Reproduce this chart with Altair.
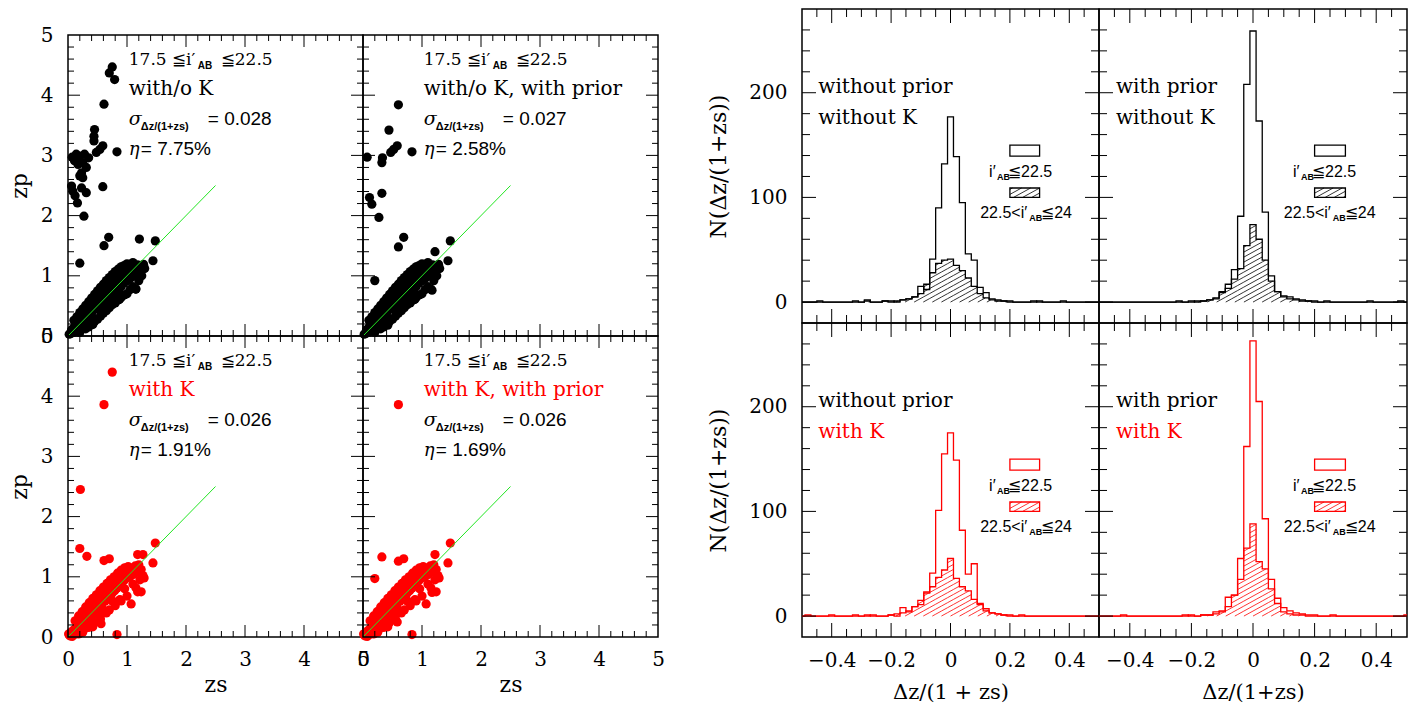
import altair as alt
import numpy as np
import pandas as pd

SERIF = "DejaVu Serif"
SANS = "Liberation Sans"
RED = "#ff0000"
BLACK = "#000000"
GREEN = "#22e622"

# ---------------- scatter data (zs, zp) ----------------
core_noK_zs = [0.02, 0.05, 0.06, 0.09, 0.10, 0.12, 0.14, 0.15, 0.17, 0.19, 0.20, 0.22, 0.24, 0.25, 0.27, 0.28,
               0.30, 0.31, 0.33, 0.35, 0.36, 0.38, 0.40, 0.42, 0.44, 0.45, 0.47, 0.49, 0.50, 0.52, 0.54, 0.55,
               0.57, 0.58, 0.60, 0.62, 0.63, 0.65, 0.67, 0.68, 0.70, 0.72, 0.73, 0.75, 0.77, 0.78, 0.80, 0.82,
               0.83, 0.85, 0.87, 0.88, 0.90, 0.92, 0.93, 0.95, 0.97, 0.98, 1.00, 1.02, 1.04, 1.05, 1.08, 1.10,
               1.12, 1.15, 1.18, 1.20, 1.24, 1.28, 0.87, 0.79, 1.15, 0.60, 0.42, 0.30,
               0.10, 0.15, 0.20, 0.25, 0.30, 0.35, 0.40, 0.45, 0.50, 0.55, 0.60, 0.65, 0.70, 0.75, 0.80, 0.85,
               0.90, 0.95, 1.00, 1.10,
               0.20, 0.30, 0.35, 0.40, 0.45, 0.50, 0.55, 0.60, 0.65, 0.70, 0.75, 0.80, 0.85, 0.90, 0.95, 1.00,
               1.05, 1.10, 1.20, 1.25, 1.30]
core_noK_zp = [0.03, 0.04, 0.10, 0.06, 0.14, 0.09, 0.18, 0.12, 0.22, 0.15, 0.26, 0.19, 0.30, 0.22, 0.35, 0.26,
               0.40, 0.30, 0.45, 0.33, 0.42, 0.50, 0.38, 0.47, 0.56, 0.44, 0.52, 0.62, 0.46, 0.57, 0.66, 0.50,
               0.60, 0.72, 0.55, 0.66, 0.78, 0.58, 0.70, 0.82, 0.63, 0.75, 0.88, 0.68, 0.80, 0.93, 0.72, 0.86,
               0.98, 0.77, 0.91, 1.03, 0.82, 0.96, 1.07, 0.88, 1.00, 1.10, 0.92, 1.04, 1.13, 0.95, 1.08, 1.16,
               1.00, 1.12, 1.18, 1.05, 1.10, 1.19, 0.61, 0.70, 0.78, 0.45, 0.30, 0.22,
               0.26, 0.32, 0.39, 0.45, 0.51, 0.57, 0.63, 0.69, 0.75, 0.81, 0.86, 0.92, 0.97, 1.02, 1.07, 1.11,
               1.15, 1.17, 1.20, 1.22,
               0.06, 0.12, 0.15, 0.20, 0.24, 0.28, 0.33, 0.38, 0.42, 0.47, 0.52, 0.55, 0.60, 0.64, 0.68, 0.70,
               0.77, 0.82, 0.92, 1.00, 1.12]

core_K_zs = [0.01, 0.03, 0.05, 0.07, 0.09, 0.11, 0.13, 0.15, 0.17, 0.19, 0.21, 0.23, 0.25, 0.27, 0.29, 0.31,
             0.33, 0.35, 0.37, 0.39, 0.41, 0.43, 0.45, 0.47, 0.49, 0.51, 0.53, 0.55, 0.57, 0.59, 0.61, 0.63,
             0.65, 0.67, 0.69, 0.71, 0.73, 0.75, 0.77, 0.79, 0.81, 0.83, 0.85, 0.87, 0.89, 0.91, 0.93, 0.95,
             0.97, 0.99, 1.02, 1.05, 1.08, 1.11, 1.14, 1.17, 1.20, 1.24, 1.27, 1.22, 0.60, 0.75, 0.88, 0.40,
             0.28, 0.18, 0.52, 0.96, 1.10,
             0.12, 0.18, 0.24, 0.30, 0.36, 0.42, 0.48, 0.54, 0.60, 0.66, 0.72, 0.78, 0.84, 0.90, 0.96, 1.02,
             0.25, 0.35, 0.45, 0.55, 0.65, 0.70, 0.80, 0.90, 1.00, 1.07, 1.15, 1.24, 1.29]
core_K_zp = [0.05, 0.02, 0.08, 0.01, 0.11, 0.04, 0.15, 0.09, 0.20, 0.13, 0.25, 0.17, 0.30, 0.21, 0.36, 0.26,
             0.42, 0.30, 0.46, 0.36, 0.52, 0.40, 0.57, 0.44, 0.62, 0.48, 0.66, 0.53, 0.71, 0.57, 0.76, 0.60,
             0.80, 0.64, 0.85, 0.69, 0.89, 0.73, 0.94, 0.77, 0.98, 0.81, 1.02, 0.86, 1.06, 0.90, 1.09, 0.94,
             1.12, 0.98, 1.10, 1.00, 1.14, 1.04, 1.18, 1.08, 1.20, 1.12, 1.02, 0.95, 0.45, 0.60, 0.62, 0.28,
             0.14, 0.05, 0.36, 0.80, 0.88,
             0.27, 0.35, 0.42, 0.50, 0.57, 0.64, 0.70, 0.77, 0.83, 0.89, 0.95, 1.00, 1.06, 1.11, 1.15, 1.17,
             0.08, 0.16, 0.24, 0.30, 0.40, 0.45, 0.52, 0.60, 0.68, 0.55, 0.82, 0.75, 0.98]

out_A_zs = [0.75, 0.70, 0.79, 0.61, 0.45, 0.44, 0.44, 0.83, 0.59, 0.54, 0.48, 0.07, 0.14, 0.20, 0.28, 0.35,
            0.25, 0.17, 0.31, 0.23, 0.20, 0.25, 0.11, 0.59, 0.06, 0.08, 0.12, 0.16, 0.23, 0.31, 0.27, 0.69,
            0.61, 1.21, 1.48, 0.20, 1.44, 0.42, 0.87, 1.15]
out_A_zp = [4.47, 4.37, 4.26, 3.85, 3.43, 3.32, 3.24, 3.06, 3.16, 3.10, 3.05, 2.97, 3.02, 2.99, 3.02, 2.96,
            2.88, 2.85, 2.80, 2.71, 2.66, 2.63, 2.91, 2.48, 2.49, 2.41, 2.33, 2.21, 2.46, 2.38, 1.99, 1.64,
            1.50, 1.61, 1.58, 1.21, 1.25, 0.19, 0.61, 0.78]

out_B_zs = [0.60, 0.44, 0.58, 0.52, 0.47, 0.83, 0.33, 0.32, 0.07, 0.32, 0.11, 0.15, 0.27, 0.69, 0.60, 1.48,
            1.22, 1.44, 0.20, 0.42, 1.17, 0.88]
out_B_zp = [3.84, 3.42, 3.16, 3.10, 3.05, 3.06, 2.96, 2.88, 2.97, 2.37, 2.30, 2.19, 1.97, 1.64, 1.48, 1.58,
            1.40, 1.25, 0.92, 0.18, 0.76, 0.61]

out_C_zs = [0.75, 0.61, 0.21, 0.20, 0.32, 0.61, 0.70, 1.48, 1.44, 1.18, 1.27, 0.83, 0.42, 0.56, 1.18, 0.87]
out_C_zp = [4.40, 3.86, 2.45, 1.47, 1.34, 1.27, 1.30, 1.56, 1.23, 1.37, 1.37, 0.04, 0.17, 0.22, 0.75, 0.61]

out_D_zs = [0.60, 0.32, 0.60, 0.69, 0.20, 1.48, 1.22, 1.44, 0.83, 0.42, 0.58, 1.17, 0.88]
out_D_zp = [3.86, 1.33, 1.26, 1.30, 0.97, 1.56, 1.37, 1.23, 0.04, 0.17, 0.25, 0.74, 0.61]

ref_line = [0.0, 2.5]

sigma_vals = ["0.028", "0.027", "0.026", "0.026"]
eta_vals = ["7.75%", "2.58%", "1.91%", "1.69%"]
scatter_line2 = ["with/o K", "with/o K, with prior", "with K", "with K, with prior"]

# ---------------- histogram data ----------------
bin_centers = [round(-0.5 + 0.02 * i, 2) for i in range(51)]

h1_bright = [0, 0, 0, 1, 0, 0, 0, 0, 0, 1,
             0, 1, 0, 0, 1, 1, 0, 2, 3, 5,
             15, 12, 41, 90, 132, 177, 139, 95, 46, 40,
             14, 9, 3, 2, 1, 1, 0, 0, 0, 1,
             0, 0, 0, 0, 1, 0, 0, 0, 0, 0, 0]
h1_faint = [0, 0, 0, 0, 0, 0, 0, 0, 0, 0,
            0, 2, 0, 0, 1, 0, 1, 2, 3, 5,
            8, 17, 28, 37, 40, 41, 35, 30, 23, 15,
            8, 4, 2, 1, 1, 0, 0, 0, 0, 0,
            1, 0, 0, 0, 0, 0, 0, 0, 0, 0, 0]
h2_bright = [0, 0, 0, 0, 0, 0, 0, 0, 0, 0,
             0, 0, 0, 0, 0, 1, 0, 1, 2, 3,
             10, 17, 31, 82, 208, 259, 173, 86, 25, 10,
             6, 5, 3, 2, 1, 1, 0, 1, 0, 0,
             0, 0, 0, 0, 1, 0, 0, 0, 0, 1, 0]
h2_faint = [0, 0, 0, 0, 0, 0, 0, 0, 0, 0,
            0, 0, 0, 1, 0, 0, 1, 1, 2, 4,
            9, 13, 22, 32, 54, 74, 60, 40, 20, 10,
            5, 3, 2, 1, 1, 0, 0, 0, 0, 0,
            0, 0, 0, 0, 0, 0, 0, 0, 0, 0, 0]
h3_bright = [0, 1, 0, 0, 0, 1, 0, 0, 0, 1,
             0, 0, 1, 0, 0, 1, 0, 8, 4, 9,
             11, 23, 41, 101, 155, 175, 149, 82, 40, 50,
             11, 5, 3, 2, 1, 1, 0, 1, 0, 0,
             0, 0, 0, 0, 0, 0, 0, 0, 0, 0, 0]
h3_faint = [0, 0, 0, 0, 0, 0, 0, 0, 0, 0,
            0, 1, 0, 0, 0, 1, 2, 3, 5, 9,
            15, 22, 28, 37, 44, 55, 36, 28, 24, 16,
            12, 7, 3, 2, 1, 0, 0, 0, 0, 0,
            0, 0, 0, 0, 0, 0, 0, 0, 0, 0, 0]
h4_bright = [0, 0, 0, 0, 1, 0, 0, 0, 0, 0,
             0, 0, 0, 0, 1, 0, 0, 1, 1, 4,
             5, 18, 20, 55, 162, 263, 205, 93, 35, 17,
             8, 5, 3, 2, 1, 1, 0, 0, 1, 0,
             0, 0, 0, 0, 0, 0, 0, 0, 0, 0, 1]
h4_faint = [0, 0, 0, 0, 0, 0, 0, 0, 0, 0,
            0, 0, 0, 0, 0, 1, 0, 1, 1, 2,
            4, 9, 20, 35, 65, 88, 52, 45, 26, 12,
            4, 2, 1, 1, 0, 0, 0, 0, 0, 0,
            0, 0, 0, 0, 0, 0, 0, 0, 0, 0, 0]

# ---------------- tick values ----------------
sc_major = [1, 2, 3, 4]
sc_minor = [round(0.2 * i, 1) for i in range(1, 25) if i % 5 != 0]
hx_major = [-0.4, -0.2, 0.0, 0.2, 0.4]
hx_minor = [-0.45, -0.35, -0.3, -0.25, -0.15, -0.1, -0.05, 0.05, 0.1, 0.15, 0.25, 0.3, 0.35, 0.45]
hy_major = [0, 100, 200]
hy_minor = [20, 40, 60, 80, 120, 140, 160, 180, 220, 240, 260]

SW = 295            # scatter panel width
HW1, HW2, HH = 297, 308, 314   # histogram panel widths / height (also cell height)
GAP = 144
ONE = pd.DataFrame({"a": [0]})


def tick_layers(xmaj, xmin, ymaj, ymin, xsc, ysc, xax, yax, W, ytop, ybot, lmaj, lmin):
    out = []
    for vals, L in ((xmaj, lmaj), (xmin, lmin)):
        base = alt.Chart(pd.DataFrame({"v": vals})).mark_rule(color=BLACK, strokeWidth=1)
        xe = alt.X("v:Q", scale=xsc, axis=xax)
        out.append(base.encode(x=xe, y=alt.value(ybot), y2=alt.value(ybot - L)))
        out.append(base.encode(x=xe, y=alt.value(ytop), y2=alt.value(ytop + L)))
    for vals, L in ((ymaj, lmaj), (ymin, lmin)):
        base = alt.Chart(pd.DataFrame({"v": vals})).mark_rule(color=BLACK, strokeWidth=1)
        ye = alt.Y("v:Q", scale=ysc, axis=yax)
        out.append(base.encode(y=ye, x=alt.value(0), x2=alt.value(L)))
        out.append(base.encode(y=ye, x=alt.value(W), x2=alt.value(W - L)))
    return out


def txt(x, y, text, xsc, ysc, xax, yax, size=17, color=BLACK, font=SERIF, dx=0, dy=0,
        weight="normal", style="normal"):
    return alt.Chart(ONE).mark_text(
        text=text, align="left", baseline="alphabetic", dx=dx, dy=dy, font=font, fontSize=size,
        color=color, fontWeight=weight, fontStyle=style
    ).encode(x=alt.XDatum(x, scale=xsc, axis=xax), y=alt.YDatum(y, scale=ysc, axis=yax))


def scatter_panel(i, zs, zp, color, show_x, show_y, ytop, ybot):
    xsc = alt.Scale(domain=[0, 5], nice=False, zero=False)
    ysc = alt.Scale(domain=[0, 5], nice=False, zero=False, range=[ybot, ytop])
    if show_x:
        xax = alt.Axis(values=[0, 1, 2, 3, 4, 5], format="d", labelFont=SERIF, labelFontSize=20,
                       labelColor=BLACK, labelPadding=22, labelBaseline="middle", labelFlush=False,
                       labelOverlap=False, ticks=False, tickSize=0, domain=False, grid=False,
                       title="zs", titleFont=SERIF, titleFontSize=22, titleFontWeight="normal",
                       titleColor=BLACK, titleX=SW / 2, titleY=47, titleAlign="center", titleBaseline="middle")
    else:
        xax = None
    if show_y:
        yax = alt.Axis(values=[0, 1, 2, 3, 4, 5], format="d", labelFont=SERIF, labelFontSize=20,
                       labelColor=BLACK, labelPadding=15, labelAlign="right", labelBaseline="middle",
                       labelFlush=False, labelOverlap=False, ticks=False, tickSize=0, domain=False, grid=False,
                       title="zp", titleFont=SERIF, titleFontSize=22, titleFontWeight="normal",
                       titleColor=BLACK, titleX=-49, titleY=(ytop + ybot) / 2, titleAngle=270,
                       titleAlign="center", titleBaseline="middle")
    else:
        yax = None
    pts = alt.Chart(pd.DataFrame({"zs": zs, "zp": zp})).mark_circle(size=85, color=color, opacity=1).encode(
        x=alt.X("zs:Q", scale=xsc, axis=xax), y=alt.Y("zp:Q", scale=ysc, axis=yax))
    line = alt.Chart(pd.DataFrame({"zs": ref_line, "zp": ref_line})).mark_line(color=GREEN, strokeWidth=1).encode(
        x=alt.X("zs:Q", scale=xsc, axis=xax), y=alt.Y("zp:Q", scale=ysc, axis=yax))
    frame = alt.Chart(ONE).mark_rect(fillOpacity=0, stroke=BLACK, strokeWidth=1.5).encode(
        x=alt.XDatum(0, scale=xsc, axis=xax), x2=alt.X2Datum(5),
        y=alt.YDatum(0, scale=ysc, axis=yax), y2=alt.Y2Datum(5))
    x0 = 1.03
    lab_col = RED if color == RED else BLACK
    T = lambda *a, **k: txt(*a[:3], xsc, ysc, xax, yax, **k)
    texts = [
        T(x0, 4.5, "17.5 \u2266i\u2032"),
        T(x0, 4.5, "AB", size=10, dx=69, dy=4, weight="bold", font=SANS),
        T(x0, 4.5, "\u226622.5", dx=92),
        T(x0, 4.0, scatter_line2[i], color=lab_col, size=20),
        T(x0, 3.5, "\u03c3", size=19, style="italic"),
        T(x0, 3.5, "\u0394z/(1+zs)", size=11, dx=12, dy=5, weight="bold", font=SANS),
        T(x0, 3.5, "=  " + sigma_vals[i], dx=79, font=SANS, size=19),
        T(x0, 3.0, "\u03b7", size=18, style="italic"),
        T(x0, 3.0, "=  " + eta_vals[i], dx=12, font=SANS, size=19),
    ]
    ticks = tick_layers(sc_major, sc_minor, sc_major, sc_minor, xsc, ysc, xax, yax, SW, ytop, ybot, 12, 6)
    return alt.layer(pts, line, frame, *ticks, *texts).properties(
        width=SW, height=HH, view=alt.ViewBackground(stroke="transparent"))


def hatch_df(rects, k, s):
    rows = []
    for (x0, x1, y0, y1) in rects:
        if y1 <= y0:
            continue
        jmin = int(np.ceil((y0 - k * x1) / s))
        jmax = int(np.floor((y1 - k * x0) / s))
        for j in range(jmin, jmax + 1):
            b = j * s
            xa = max(x0, (y0 - b) / k)
            xb = min(x1, (y1 - b) / k)
            if xb > xa + 1e-9:
                rows.append((xa, k * xa + b, xb, k * xb + b))
    return pd.DataFrame(rows, columns=["x", "y", "x2", "y2"])


def hist_panel(bright, faint, color, line1, line2, line2_col, W, show_x, show_y, xtitle):
    xsc = alt.Scale(domain=[-0.5, 0.5], nice=False, zero=False)
    ysc = alt.Scale(domain=[-20, 280], nice=False, zero=False)
    if show_x:
        xax = alt.Axis(values=hx_major, format=".1~f", labelFont=SERIF, labelFontSize=20, labelColor=BLACK,
                       labelPadding=23, labelBaseline="middle", labelFlush=False, labelOverlap=False,
                       ticks=False, tickSize=0, domain=False, grid=False,
                       title=xtitle, titleFont=SERIF, titleFontSize=21, titleFontWeight="normal",
                       titleColor=BLACK, titleX=W / 2, titleY=55, titleAlign="center", titleBaseline="middle")
    else:
        xax = None
    if show_y:
        yax = alt.Axis(values=hy_major, format="d", labelFont=SERIF, labelFontSize=20, labelColor=BLACK,
                       labelPadding=15, labelAlign="right", labelBaseline="middle", labelFlush=False,
                       labelOverlap=False, ticks=False, tickSize=0, domain=False, grid=False,
                       title="N(\u0394z/(1+zs))", titleFont=SERIF, titleFontSize=22, titleFontWeight="normal",
                       titleColor=BLACK, titleX=-84, titleY=HH / 2, titleAngle=270, titleAlign="center",
                       titleBaseline="middle")
    else:
        yax = None
    k = 0.55 * W / (HH / 300.0)
    s = 5.0 * 300.0 / HH
    rects = [(max(-0.5, c - 0.01), min(0.5, c + 0.01), 0.0, float(n)) for c, n in zip(bin_centers, faint)]
    hd = hatch_df(rects, k, s)
    hatch = alt.Chart(hd).mark_rule(color=color, strokeWidth=0.8).encode(
        x=alt.X("x:Q", scale=xsc, axis=xax), y=alt.Y("y:Q", scale=ysc, axis=yax),
        x2="x2:Q", y2="y2:Q")
    df_b = pd.DataFrame({"c": bin_centers, "n": bright})
    df_f = pd.DataFrame({"c": bin_centers, "n": faint})
    open_line = alt.Chart(df_b).mark_line(interpolate="step", color=color, strokeWidth=1.3).encode(
        x=alt.X("c:Q", scale=xsc, axis=xax), y=alt.Y("n:Q", scale=ysc, axis=yax))
    faint_line = alt.Chart(df_f).mark_line(interpolate="step", color=color, strokeWidth=1.3).encode(
        x=alt.X("c:Q", scale=xsc, axis=xax), y=alt.Y("n:Q", scale=ysc, axis=yax))
    box1 = alt.Chart(ONE).mark_rect(fill="white", stroke=color, strokeWidth=1.3).encode(
        x=alt.XDatum(0.2, scale=xsc, axis=xax), x2=alt.X2Datum(0.3),
        y=alt.YDatum(139.5, scale=ysc, axis=yax), y2=alt.Y2Datum(150))
    box2 = alt.Chart(ONE).mark_rect(fill="white", stroke=color, strokeWidth=1.3).encode(
        x=alt.XDatum(0.2, scale=xsc, axis=xax), x2=alt.X2Datum(0.3),
        y=alt.YDatum(100, scale=ysc, axis=yax), y2=alt.Y2Datum(109))
    hd2 = hatch_df([(0.2, 0.3, 100.0, 109.0)], k, s)
    box2h = alt.Chart(hd2).mark_rule(color=color, strokeWidth=0.8).encode(
        x=alt.X("x:Q", scale=xsc, axis=xax), y=alt.Y("y:Q", scale=ysc, axis=yax),
        x2="x2:Q", y2="y2:Q")
    T = lambda *a, **k: txt(*a[:3], xsc, ysc, xax, yax, **k)
    texts = [
        T(-0.445, 200, line1, size=20),
        T(-0.445, 170, line2, size=20, color=line2_col),
        T(0.13, 119.5, "i\u2032", size=16, font=SANS),
        T(0.13, 119.5, "AB", size=9, dx=8, dy=3, weight="bold", font=SANS),
        T(0.13, 119.5, "\u226622.5", size=16, dx=19, font=SANS),
        T(0.10, 80, "22.5<i\u2032", size=16, font=SANS),
        T(0.10, 80, "AB", size=9, dx=49, dy=3, weight="bold", font=SANS),
        T(0.10, 80, "\u226624", size=16, dx=61, font=SANS),
    ]
    ticks = tick_layers(hx_major, hx_minor, hy_major, hy_minor, xsc, ysc, xax, yax, W, 0, HH, 14, 8)
    return alt.layer(open_line, hatch, faint_line, box1, box2, box2h, *ticks, *texts).properties(
        width=W, height=HH)


def spacer():
    return alt.Chart(ONE).mark_point(opacity=0, size=1).encode(
        x=alt.value(GAP / 2), y=alt.value(HH / 2)).properties(
        width=GAP, height=HH, view=alt.ViewBackground(stroke="transparent"))


# scatter frames: top row frame spans cell-local y 26..327, bottom row 13..314
A = scatter_panel(0, core_noK_zs + out_A_zs, core_noK_zp + out_A_zp, BLACK, False, True, 26, 327)
B = scatter_panel(1, core_noK_zs + out_B_zs, core_noK_zp + out_B_zp, BLACK, False, False, 26, 327)
C = scatter_panel(2, core_K_zs + out_C_zs, core_K_zp + out_C_zp, RED, True, True, 13, 314)
D = scatter_panel(3, core_K_zs + out_D_zs, core_K_zp + out_D_zp, RED, True, False, 13, 314)

H1 = hist_panel(h1_bright, h1_faint, BLACK, "without prior", "without K", BLACK, HW1, False, True, "")
H2 = hist_panel(h2_bright, h2_faint, BLACK, "with prior", "without K", BLACK, HW2, False, False, "")
H3 = hist_panel(h3_bright, h3_faint, RED, "without prior", "with K", RED, HW1, True, True, "\u0394z/(1 + zs)")
H4 = hist_panel(h4_bright, h4_faint, RED, "with prior", "with K", RED, HW2, True, False, "\u0394z/(1+zs)")

chart = alt.concat(
    A, B, spacer(), H1, H2,
    C, D, spacer(), H3, H4,
    columns=5, spacing=0, bounds="flush", align="each"
).properties(
    padding={"left": 7, "top": 7, "right": 5, "bottom": 5}, background="white"
).configure_view(stroke=BLACK, strokeWidth=1.5)

chart.save("out.html", embed_options={"renderer": "svg", "actions": False})
